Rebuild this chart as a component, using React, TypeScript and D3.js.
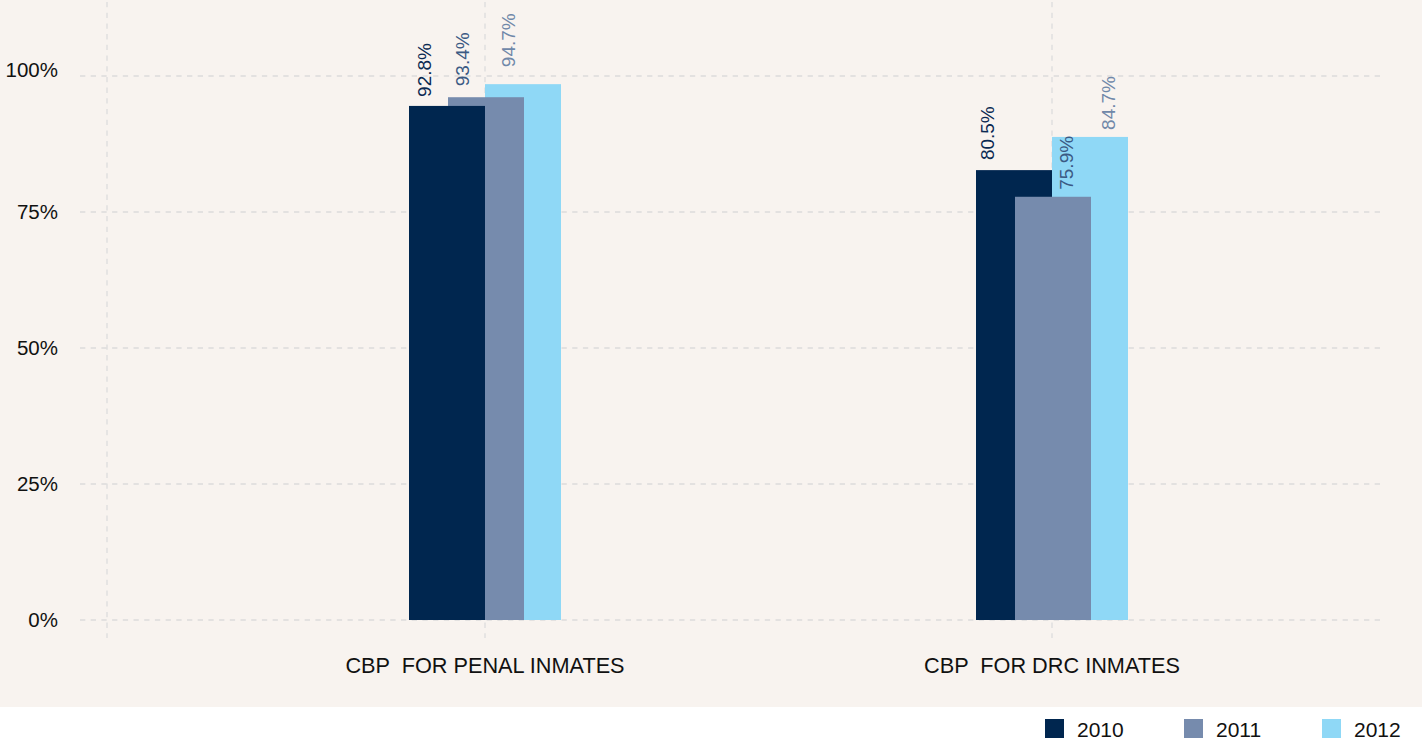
import React from 'react';
import * as d3 from 'd3';

// ---- data ----
const categories = ['CBP  FOR PENAL INMATES', 'CBP  FOR DRC INMATES'];
const seriesNames = ['2010', '2011', '2012'];
// bar heights as drawn in the picture (%)
const values2010 = [94.5, 82.7];
const values2011 = [96.1, 77.8];
const values2012 = [98.5, 88.8];
// printed value labels
const labels2010 = ['92.8%', '80.5%'];
const labels2011 = ['93.4%', '75.9%'];
const labels2012 = ['94.7%', '84.7%'];
const yTicks = [0, 25, 50, 75, 100];
const yTickLabels = ['0%', '25%', '50%', '75%', '100%'];

// ---- style / layout ----
const W = 1422;
const H = 740;
const barColors = ['#00264f', '#768bad', '#8fd8f6'];
const labelColors = ['#0b2a52', '#3b5a84', '#7088a9'];
const barWidth = 76;
const seriesOffset = [-76, -37, 0];
// label layout tweaks [series][category]: dx from bar left to text baseline, gap above bar top
const labelDx = [
  [21.5, 17.5],
  [20.5, 57.5],
  [29.5, 62.5],
];
const labelGap = [
  [9, 10],
  [11, 7],
  [17, 7],
];
const FONT = '"Liberation Sans", Arial, sans-serif';
const gridColor = '#dcdcdc';

export default function App() {
  const values = [values2010, values2011, values2012];
  const labels = [labels2010, labels2011, labels2012];
  const y = d3.scaleLinear().domain([0, 100]).range([620, 76]);
  const x = d3.scalePoint<string>().domain(categories).range([485, 1052]);

  const bars: { s: number; c: number; v: number }[] = [];
  categories.forEach((_, c) => {
    const group = seriesNames.map((_, s) => ({ s, c, v: values[s][c] }));
    group.sort((a, b) => b.v - a.v); // taller bars drawn behind
    bars.push(...group);
  });

  const vLines = [107, x(categories[0])!, x(categories[1])!];
  const legendX = [1045, 1184, 1322];

  return (
    <svg
      width={W}
      height={H}
      style={{ position: 'absolute', left: 0, top: 0, display: 'block', background: '#ffffff' }}
      fontFamily={FONT}
    >
      <rect x={0} y={0} width={W} height={707} fill="#f8f3ef" />
      {/* grid */}
      {yTicks.map((t) => (
        <line
          key={'h' + t}
          x1={80}
          x2={1382}
          y1={y(t)}
          y2={y(t)}
          stroke={gridColor}
          strokeWidth={1.3}
          strokeDasharray="5.3 5.4"
        />
      ))}
      {vLines.map((vx, i) => (
        <line
          key={'v' + i}
          x1={vx}
          x2={vx}
          y1={2}
          y2={638}
          stroke={gridColor}
          strokeWidth={1.3}
          strokeDasharray="5.3 5.4"
        />
      ))}
      {/* y tick labels */}
      {yTicks.map((t, i) => (
        <text
          key={'t' + t}
          x={58}
          y={y(t) + (t === 100 ? -6 : 0)}
          dy="0.35em"
          textAnchor="end"
          fontSize={20.5}
          fill="#111"
        >
          {yTickLabels[i]}
        </text>
      ))}
      {/* bars */}
      {bars.map((b) => {
        const left = x(categories[b.c])! + seriesOffset[b.s];
        return (
          <rect
            key={'b' + b.s + '-' + b.c}
            x={left}
            y={y(b.v)}
            width={barWidth}
            height={y(0) - y(b.v)}
            fill={barColors[b.s]}
          />
        );
      })}
      {/* value labels */}
      {bars.map((b) => {
        const left = x(categories[b.c])! + seriesOffset[b.s];
        const tx = left + labelDx[b.s][b.c];
        const ty = y(b.v) - labelGap[b.s][b.c];
        return (
          <text
            key={'l' + b.s + '-' + b.c}
            transform={`translate(${tx},${ty}) rotate(-90)`}
            fontSize={19}
            fill={labelColors[b.s]}
          >
            {labels[b.s][b.c]}
          </text>
        );
      })}
      {/* category labels */}
      {categories.map((c) => (
        <text
          key={'c' + c}
          x={x(c)!}
          y={673}
          textAnchor="middle"
          fontSize={21.7}
          fill="#111"
          style={{ whiteSpace: 'pre' }}
        >
          {c}
        </text>
      ))}
      {/* legend */}
      {seriesNames.map((s, i) => (
        <g key={'lg' + s}>
          <rect x={legendX[i]} y={719} width={19} height={19} fill={barColors[i]} />
          <text x={legendX[i] + 32} y={737} fontSize={21} fill="#111">
            {s}
          </text>
        </g>
      ))}
    </svg>
  );
}
